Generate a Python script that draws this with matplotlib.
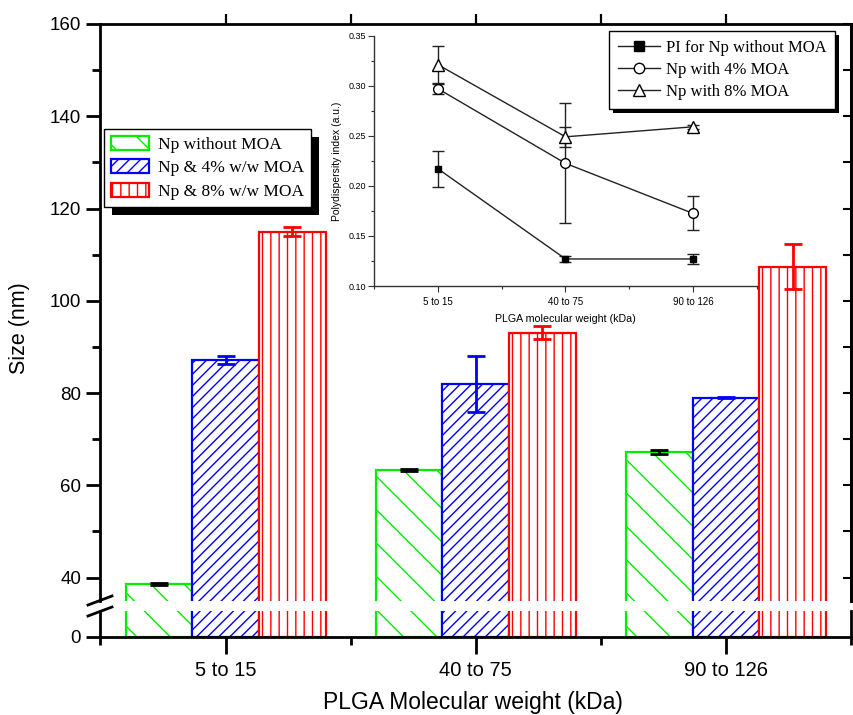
import numpy as np
import matplotlib
matplotlib.use('Agg')
import matplotlib.pyplot as plt
from matplotlib.ticker import MultipleLocator, FixedLocator, NullFormatter
from matplotlib.lines import Line2D
from matplotlib.patches import Rectangle

# ---------------- data ----------------
groups = ['5 to 15', '40 to 75', '90 to 126']
series_labels = ['Np without MOA', 'Np & 4% w/w MOA', 'Np & 8% w/w MOA']
size_no_moa = [38.6, 63.4, 67.3]
size_no_moa_err = [0.2, 0.2, 0.4]
size_4_moa = [87.1, 81.9, 79.0]
size_4_moa_err = [0.9, 6.1, 0.15]
size_8_moa = [115.0, 93.1, 107.4]
size_8_moa_err = [1.05, 1.4, 4.9]

pi_labels = ['PI for Np without MOA', 'Np with 4% MOA', 'Np with 8% MOA']
pi_no_moa = [0.217, 0.127, 0.127]
pi_no_moa_err = [0.018, 0.003, 0.005]
pi_4_moa = [0.297, 0.2225, 0.1725]
pi_4_moa_err = [0.005, 0.06, 0.017]
pi_8_moa = [0.321, 0.249, 0.259]
pi_8_moa_err = [0.0185, 0.01, 0.002]

# ---------------- style ----------------
SANS = 'Liberation Sans'
SERIF = 'Liberation Serif'
plt.rcParams['font.family'] = [SANS, 'DejaVu Sans']
plt.rcParams['hatch.linewidth'] = 1.0

W, H = 854, 715
fig = plt.figure(figsize=(W / 100, H / 100), dpi=100)


def fx(px):
    return px / W


def fy(py):
    return 1 - py / H


left, right = 100.5, 851
top_up, bot_up = 24, 600.7
top_lo, bot_lo = 611, 636.5

ax_up = fig.add_axes([fx(left), fy(bot_up), (right - left) / W, (bot_up - top_up) / H])
ax_lo = fig.add_axes([fx(left), fy(bot_lo), (right - left) / W, (bot_lo - top_lo) / H])

x = np.arange(1, len(groups) + 1)
bw = 0.2667
series = [
    (size_no_moa, size_no_moa_err, '#00ee00', '\\', 'black', -bw, series_labels[0]),
    (size_4_moa, size_4_moa_err, '#0000ff', '///', '#0000ff', 0.0, series_labels[1]),
    (size_8_moa, size_8_moa_err, '#ff0000', '||', '#ff0000', bw, series_labels[2]),
]

handles = []
for ax in (ax_up, ax_lo):
    for vals, errs, col, hatch, ecol, off, lab in series:
        bc = ax.bar(x + off, vals, bw, facecolor='white', edgecolor=col, hatch=hatch,
                    linewidth=1.6, yerr=errs, label=lab,
                    error_kw=dict(ecolor=ecol, elinewidth=2, capsize=6.5, capthick=2))
        if ax is ax_up:
            handles.append(bc)
    ax.set_xlim(0.5, 3.5)
    for s in ax.spines.values():
        s.set_linewidth(2)

# upper axes
ax_up.set_ylim(35, 160)
ax_up.spines['bottom'].set_visible(False)
ax_up.yaxis.set_major_locator(FixedLocator([40, 60, 80, 100, 120, 140, 160]))
ax_up.yaxis.set_minor_locator(FixedLocator([50, 70, 90, 110, 130, 150]))
ax_up.tick_params(axis='y', which='major', direction='out', length=10, width=2,
                  labelsize=13.5, pad=4)
ax_up.tick_params(axis='y', which='minor', direction='out', length=6, width=2)
ax_up.xaxis.tick_top()
ax_up.xaxis.set_major_locator(FixedLocator([1, 1.5, 2, 2.5, 3]))
ax_up.xaxis.set_major_formatter(NullFormatter())
ax_up.tick_params(axis='x', which='major', direction='out', length=7, width=1.6)
sec = ax_up.secondary_yaxis('right')
sec.yaxis.set_major_locator(MultipleLocator(10))
sec.tick_params(direction='in', length=6, width=1.5, labelright=False)
sec.spines['right'].set_linewidth(2)

# lower axes
ax_lo.set_ylim(0, 5.5)
ax_lo.spines['top'].set_visible(False)
ax_lo.set_yticks([0])
ax_lo.set_yticklabels(['0'])
ax_lo.tick_params(axis='y', direction='out', length=10, width=2, labelsize=13.5, pad=4)
ax_lo.set_xticks(x)
ax_lo.set_xticklabels(groups)
ax_lo.xaxis.set_minor_locator(FixedLocator([0.5, 1.5, 2.5, 3.5]))
ax_lo.tick_params(axis='x', which='major', direction='out', length=12, width=2,
                  labelsize=14.5, pad=6)
ax_lo.tick_params(axis='x', which='minor', direction='out', length=6, width=2)

# break marks
for y0 in (605, 616):
    fig.add_artist(Line2D([fx(88), fx(112)], [fy(y0), fy(y0 - 9)], color='black', lw=2))

fig.text(fx(20), fy(328), 'Size (nm)', rotation=90, ha='center', va='center', fontsize=15.5)
fig.text(fx(473), fy(702), 'PLGA Molecular weight (kDa)', ha='center', va='center', fontsize=16.5)

# main legend
leg = fig.legend(handles=handles, labels=series_labels, loc='upper left',
                 bbox_to_anchor=(fx(104), fy(129)), frameon=True, fancybox=False,
                 edgecolor='black', framealpha=1, borderaxespad=0,
                 prop={'family': SERIF, 'size': 12.5}, handlelength=2.2, handleheight=0.85,
                 borderpad=0.4, labelspacing=0.38, handletextpad=0.5)
leg.get_frame().set_linewidth(1.0)
leg.set_zorder(6)

# ---------------- inset ----------------
ax_in = fig.add_axes([fx(374.3), fy(286), 382.4 / W, (286 - 35.7) / H])
ax_in.set_facecolor('none')
lc = '#222222'
ax_in.errorbar(x, pi_no_moa, yerr=pi_no_moa_err, color=lc, lw=1, marker='s', ms=4.5,
               mfc='black', mec='black', capsize=4, elinewidth=1, capthick=1)
ax_in.errorbar(x, pi_4_moa, yerr=pi_4_moa_err, color=lc, lw=1, marker='o', ms=7,
               mfc='white', mec='black', capsize=4, elinewidth=1, capthick=1)
ax_in.errorbar(x, pi_8_moa, yerr=pi_8_moa_err, color=lc, lw=1, marker='^', ms=8,
               mfc='white', mec='black', capsize=4, elinewidth=1, capthick=1)
ax_in.set_xlim(0.5, 3.5)
ax_in.set_ylim(0.10, 0.35)
ax_in.spines['top'].set_visible(False)
ax_in.spines['right'].set_visible(False)
for s in ('left', 'bottom'):
    ax_in.spines[s].set_color('#333333')
    ax_in.spines[s].set_linewidth(1)
ax_in.set_xticks(x)
ax_in.set_xticklabels(groups)
ax_in.xaxis.set_minor_locator(FixedLocator([0.5, 1.5, 2.5, 3.5]))
ax_in.yaxis.set_major_locator(MultipleLocator(0.05))
ax_in.yaxis.set_minor_locator(MultipleLocator(0.025))
ax_in.yaxis.set_major_formatter(matplotlib.ticker.FormatStrFormatter('%.2f'))
ax_in.tick_params(which='major', direction='out', length=4, width=0.8, color='#333333',
                  labelsize=6.5, pad=2)
ax_in.tick_params(axis='x', which='major', labelsize=7, pad=4)
ax_in.tick_params(which='minor', direction='out', length=2.5, width=0.8, color='#333333')
ax_in.set_xlabel('PLGA molecular weight (kDa)', fontsize=7.7, labelpad=5)
ax_in.set_ylabel('Polydispersity index (a.u.)', fontsize=7.5, labelpad=5)

in_handles = [
    Line2D([], [], color=lc, lw=1, marker='s', ms=6.5, mfc='black', mec='black'),
    Line2D([], [], color=lc, lw=1, marker='o', ms=7.5, mfc='white', mec='black'),
    Line2D([], [], color=lc, lw=1, marker='^', ms=8, mfc='white', mec='black'),
]
leg_in = ax_in.legend(handles=in_handles, labels=pi_labels, loc='upper left',
                      bbox_to_anchor=(fx(609), fy(31)), bbox_transform=fig.transFigure,
                      frameon=True, fancybox=False, edgecolor='black', framealpha=1,
                      borderaxespad=0, prop={'family': SERIF, 'size': 12},
                      handlelength=2.5, borderpad=0.55, labelspacing=0.35, handletextpad=0.35)
leg_in.get_frame().set_linewidth(1.0)

# shadows
fig.canvas.draw()
inv = fig.transFigure.inverted()
for lg, off, parent in ((leg, 8, fig), (leg_in, 4, ax_in)):
    bb = lg.get_window_extent()
    (x0, y0) = inv.transform((bb.x0 + off, bb.y0 - off))
    (x1, y1) = inv.transform((bb.x1 + off, bb.y1 - off))
    r = Rectangle((x0, y0), x1 - x0, y1 - y0, transform=fig.transFigure,
                  facecolor='black', edgecolor='none', zorder=lg.get_zorder() - 0.1,
                  clip_on=False)
    if parent is fig:
        fig.add_artist(r)
    else:
        ax_in.add_artist(r)

fig.savefig('out.png', dpi=100)
